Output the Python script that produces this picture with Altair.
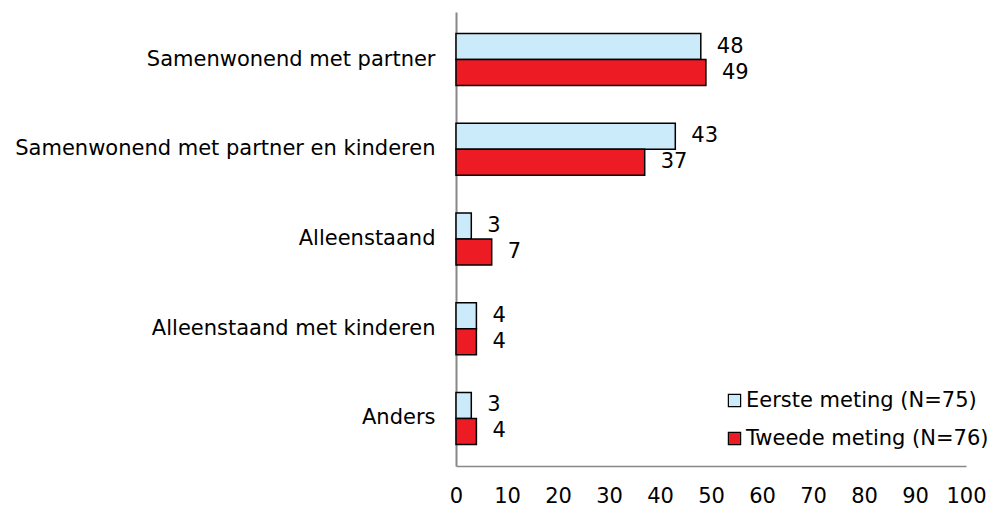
import altair as alt
import pandas as pd

categories = ["Samenwonend met partner", "Samenwonend met partner en kinderen",
              "Alleenstaand", "Alleenstaand met kinderen", "Anders"]
series = ["Eerste meting (N=75)", "Tweede meting (N=76)"]
eerste = [48, 43, 3, 4, 3]
tweede = [49, 37, 7, 4, 4]
colors = ["#CCEBFA", "#ED1C24"]
x_ticks = [0, 10, 20, 30, 40, 50, 60, 70, 80, 90, 100]

rows = []
for i, c in enumerate(categories):
    rows.append({"cat": c, "serie": series[0], "val": eerste[i]})
    rows.append({"cat": c, "serie": series[1], "val": tweede[i]})
df = pd.DataFrame(rows)

FONT = "DejaVu Sans"
FS = 21

y_enc = alt.Y("cat:N", sort=categories, title=None,
              scale=alt.Scale(paddingInner=0.42, paddingOuter=0.24),
              axis=alt.Axis(domainColor="#888888", domainWidth=2, ticks=False,
                            labelPadding=21, labelFontSize=FS, labelColor="#000000",
                            labelFont=FONT, labelLimit=500))
yoff = alt.YOffset("serie:N", sort=series)

bars = alt.Chart(df).mark_bar(stroke="#000000", strokeWidth=1.5).encode(
    x=alt.X("val:Q", title=None,
            scale=alt.Scale(domain=[0, 100], nice=False),
            axis=alt.Axis(values=x_ticks, grid=False, ticks=False,
                          domainColor="#888888", domainWidth=1.5,
                          labelPadding=19, labelFontSize=FS, labelColor="#000000",
                          labelFont=FONT, labelOverlap=False, labelFlush=False,
                          labelBound=False)),
    y=y_enc,
    yOffset=yoff,
    color=alt.Color("serie:N", sort=series,
                    scale=alt.Scale(domain=series, range=colors),
                    legend=alt.Legend(title=None, orient="none", legendX=268, legendY=378,
                                      symbolType="square", symbolSize=150,
                                      symbolStrokeColor="#000000", symbolStrokeWidth=1.2,
                                      labelFontSize=FS, labelFont=FONT, labelColor="#000000",
                                      labelLimit=400, rowPadding=16, labelOffset=1)),
)

labels = alt.Chart(df).mark_text(align="left", baseline="middle", dx=16,
                                 fontSize=FS, font=FONT, color="#000000").encode(
    x="val:Q",
    y=alt.Y("cat:N", sort=categories),
    yOffset=yoff,
    text="val:Q",
)

chart = (bars + labels).properties(
    width=510, height=454,
    autosize=alt.AutoSizeParams(type="none"),
    padding={"left": 448, "top": 4, "right": 22, "bottom": 40},
).configure_view(stroke=None)

chart.save("out.html", embed_options={"renderer": "svg", "actions": False})
